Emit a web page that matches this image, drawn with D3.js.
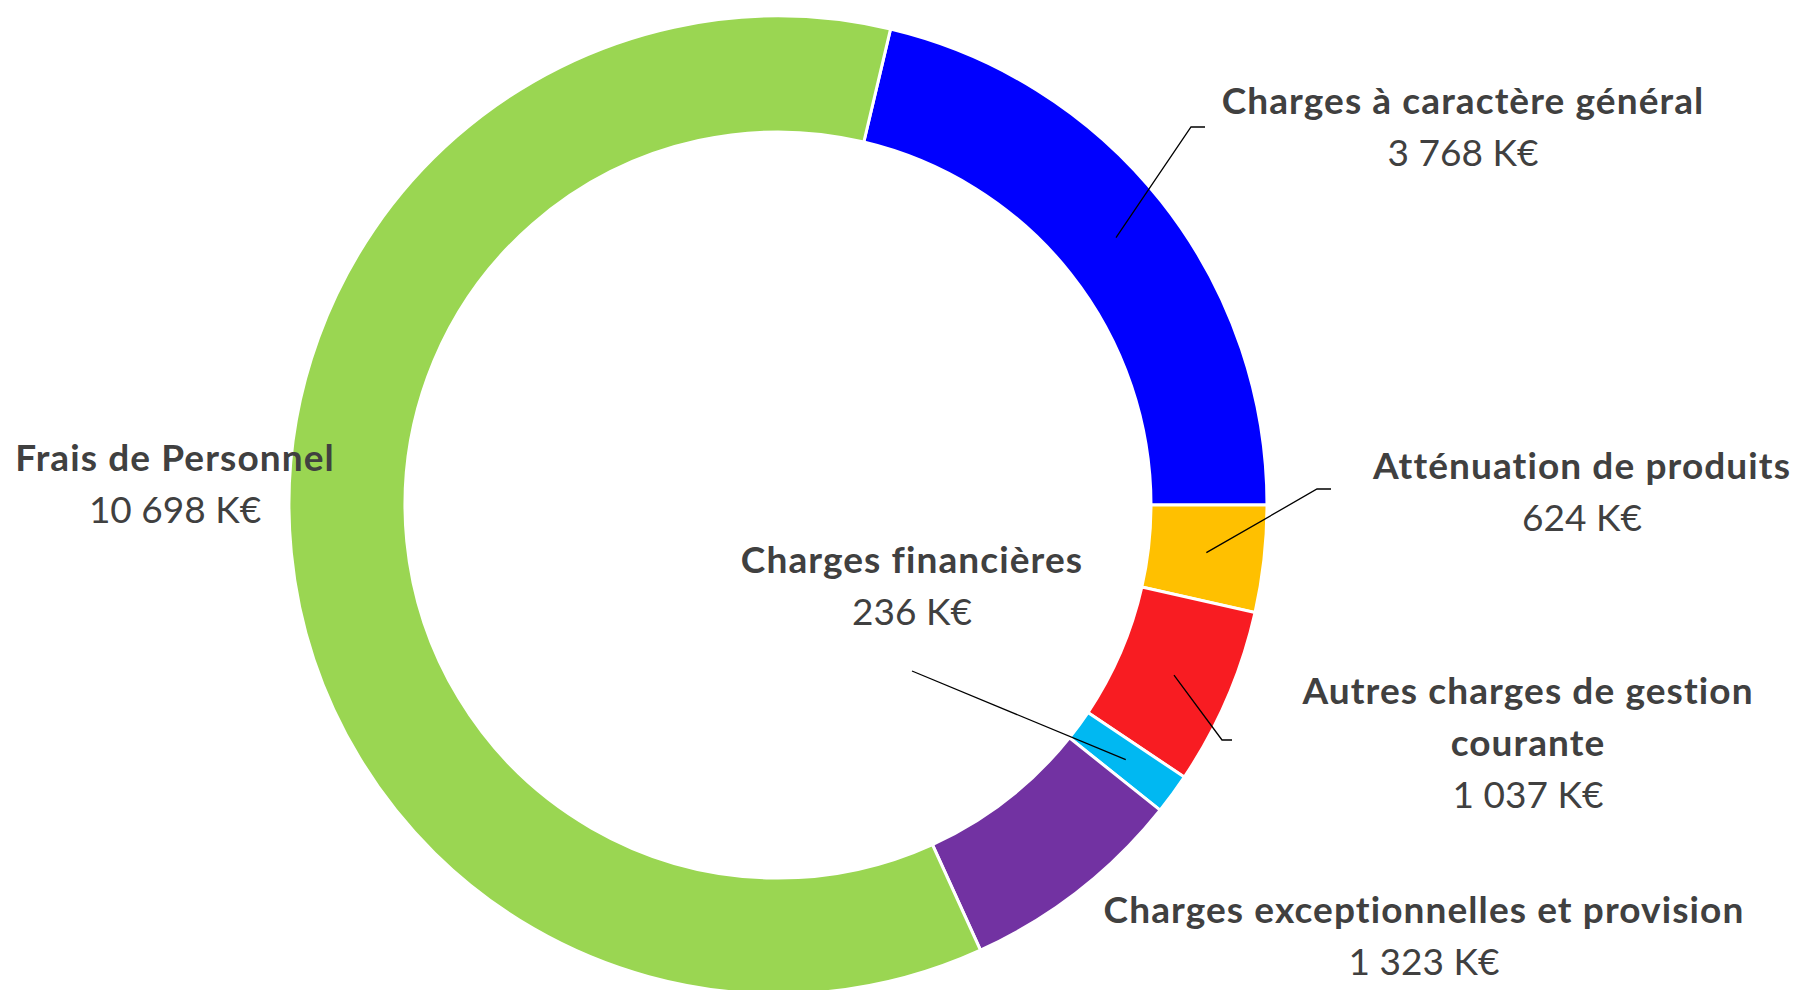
<!DOCTYPE html>
<html>
<head>
<meta charset="utf-8">
<script src="https://cdn.jsdelivr.net/npm/d3@7"></script>
<style>
  body { margin: 0; background: #fff; }
  text { font-family: Lato, "Open Sans", sans-serif; fill: #404040; }
</style>
</head>
<body>
<script>
var categories = ["Charges à caractère général", "Atténuation de produits", "Autres charges de gestion courante",
    "Charges financières", "Charges exceptionnelles et provision", "Frais de Personnel"];
var values = [3768, 624, 1037, 236, 1323, 10698];
var colors = ["#0000ff", "#ffc000", "#f81c22", "#00b8f2", "#7232a2", "#9ad652"];

// label placement: lines of the name, centre x, y of first line, leader elbow (null = no leader)
var labelLines = [["Charges à caractère général"], ["Atténuation de produits"], ["Autres charges de gestion", "courante"],
    ["Charges financières"], ["Charges exceptionnelles et provision"], ["Frais de Personnel"]];
var labelPos = [[1463, 101], [1582, 466], [1528, 691], [912, 560], [1424, 910], [175, 458]];
var leaderEnd = [[1191, 127, 1205], [1317, 489, 1331], [1222, 740, 1232], [912, 671, 912], null, null];

var w = 1804, h = 990,
    cx = 778, cy = 505,
    outerR = 489, innerR = 373;

var fmt = function(v) { return d3.format(",")(v).replace(/,/g, " ") + " K€"; };

var svg = d3.select("body").append("svg")
    .attr("width", w)
    .attr("height", h);

var data = values.map(function(v, i) { return {name: categories[i], value: v, i: i}; });

var total = d3.sum(values);
var startA = Math.PI / 2 - (values[0] / total) * 2 * Math.PI;

var pie = d3.pie()
    .value(function(d) { return d.value; })
    .sort(null)
    .startAngle(startA)
    .endAngle(startA + 2 * Math.PI);

var arc = d3.arc().innerRadius(innerR).outerRadius(outerR);

var g = svg.append("g").attr("transform", "translate(" + cx + "," + cy + ")");

var arcs = pie(data);

g.selectAll("path")
    .data(arcs)
    .enter().append("path")
    .attr("d", arc)
    .style("fill", function(d) { return colors[d.data.i]; })
    .style("stroke", "#fff")
    .style("stroke-width", 3);

// leaders
arcs.forEach(function(d) {
    var e = leaderEnd[d.data.i];
    if (!e) return;
    var c = arc.centroid(d);
    var pts = [[c[0] + cx, c[1] + cy], [e[0], e[1]], [e[2], e[1]]];
    svg.append("path")
        .attr("d", d3.line()(pts))
        .style("fill", "none")
        .style("stroke", "#000")
        .style("stroke-width", 1.3);
});

// labels
var lh = 52;
data.forEach(function(d) {
    var p = labelPos[d.i];
    var lines = labelLines[d.i];
    var t = svg.append("text").attr("text-anchor", "middle");
    lines.forEach(function(l, k) {
        t.append("tspan")
            .attr("x", p[0])
            .attr("y", p[1] + k * lh + 13)
            .style("font-weight", "bold")
            .style("font-size", "37px")
            .style("letter-spacing", "1.1px")
            .text(l);
    });
    t.append("tspan")
        .attr("x", p[0])
        .attr("y", p[1] + lines.length * lh + 13)
        .style("font-size", "37px")
        .text(fmt(d.value));
});
</script>
</body>
</html>
